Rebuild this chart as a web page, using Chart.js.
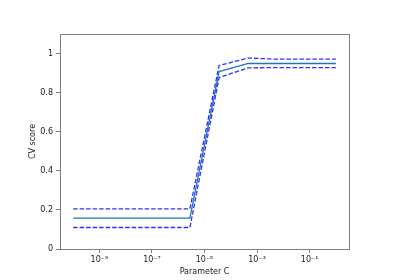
<!DOCTYPE html>
<html>
<head>
<meta charset="utf-8">
<script src="https://cdn.jsdelivr.net/npm/chart.js@4"></script>
<style>
  body { margin: 0; background: #fff; }
  #wrap { width: 400px; height: 280px; }
</style>
</head>
<body>
<div id="wrap"><canvas id="cv-chart" width="400" height="280"></canvas></div>
<script>
// parameter C values (logspace -10..0, 10 points)
var cValues = [1e-10, 1.29e-9, 1.67e-8, 2.15e-7, 2.78e-6, 3.59e-5, 4.64e-4, 5.99e-3, 7.74e-2, 1];
// mean CV score and mean +/- std
var meanScores  = [0.158, 0.158, 0.158, 0.158, 0.158, 0.908, 0.950, 0.949, 0.949, 0.949];
var upperScores = [0.205, 0.205, 0.205, 0.205, 0.205, 0.939, 0.977, 0.971, 0.971, 0.971];
var lowerScores = [0.110, 0.110, 0.110, 0.110, 0.110, 0.877, 0.927, 0.928, 0.928, 0.928];

var xTicks = [1e-9, 1e-7, 1e-5, 1e-3, 1e-1];
var xTickLabels = ["10\u207B\u2079", "10\u207B\u2077", "10\u207B\u2075", "10\u207B\u00B3", "10\u207B\u00B9"];
var yTicks = [0, 0.2, 0.4, 0.6, 0.8, 1];
var yTickLabels = ["0", "0.2", "0.4", "0.6", "0.8", "1"];

function points(ys) {
  var out = [];
  for (var i = 0; i < cValues.length; i++) out.push({x: cValues[i], y: ys[i]});
  return out;
}

var fontFamily = "'DejaVu Sans', sans-serif";
var axisColor = "#808080";

// frame around the plot area (matplotlib spines)
var framePlugin = {
  id: "frame",
  afterDraw: function(chart) {
    var a = chart.chartArea, ctx = chart.ctx;
    ctx.save();
    ctx.strokeStyle = axisColor;
    ctx.lineWidth = 1;
    ctx.strokeRect(Math.round(a.left) + 0.5, Math.round(a.top) + 0.5,
                   Math.round(a.right - a.left), Math.round(a.bottom - a.top));
    ctx.restore();
  }
};

function dashedSet(label, ys) {
  return {
    label: label,
    data: points(ys),
    borderColor: "#3030ff",
    backgroundColor: "#3030ff",
    borderWidth: 1.3,
    borderDash: [4.5, 2],
    pointRadius: 0,
    tension: 0,
    fill: false
  };
}

var ctx = document.getElementById("cv-chart");
var chart = new Chart(ctx, {
  type: "line",
  data: {
    datasets: [
      dashedSet("mean + std", upperScores),
      dashedSet("mean - std", lowerScores),
      {
        label: "mean",
        data: points(meanScores),
        borderColor: "#1f77b4",
        backgroundColor: "#1f77b4",
        borderWidth: 1.3,
        pointRadius: 0,
        tension: 0,
        fill: false
      }
    ]
  },
  options: {
    responsive: false,
    animation: false,
    devicePixelRatio: 1,
    layout: { padding: { left: 0, top: 34, right: 51, bottom: 0 } },
    plugins: {
      legend: { display: false },
      tooltip: { enabled: false }
    },
    scales: {
      x: {
        type: "logarithmic",
        min: Math.pow(10, -10.5),
        max: Math.pow(10, 0.5),
        afterBuildTicks: function(scale) {
          scale.ticks = xTicks.map(function(v) { return {value: v}; });
        },
        afterFit: function(scale) { scale.height = 31; },
        grid: { drawOnChartArea: false, drawTicks: true, tickLength: 4, color: axisColor },
        border: { display: false },
        ticks: {
          autoSkip: false,
          maxRotation: 0,
          padding: 2,
          color: "#222",
          font: { family: fontFamily, size: 8 },
          callback: function(value, index) { return xTickLabels[index]; }
        },
        title: {
          display: true,
          text: "Parameter C",
          color: "#222",
          font: { family: fontFamily, size: 8 },
          padding: { top: 0, bottom: 3 }
        }
      },
      y: {
        type: "linear",
        min: 0,
        max: 1.1,
        afterBuildTicks: function(scale) {
          scale.ticks = yTicks.map(function(v) { return {value: v}; });
        },
        afterFit: function(scale) { scale.width = 60; },
        grid: { drawOnChartArea: false, drawTicks: true, tickLength: 4, color: axisColor },
        border: { display: false },
        ticks: {
          padding: 3,
          color: "#222",
          font: { family: fontFamily, size: 8 },
          callback: function(value, index) { return yTickLabels[index]; }
        },
        title: {
          display: true,
          text: "CV score",
          color: "#222",
          font: { family: fontFamily, size: 8 },
          padding: { top: 28, bottom: 0 }
        }
      }
    }
  },
  plugins: [framePlugin]
});
</script>
</body>
</html>
